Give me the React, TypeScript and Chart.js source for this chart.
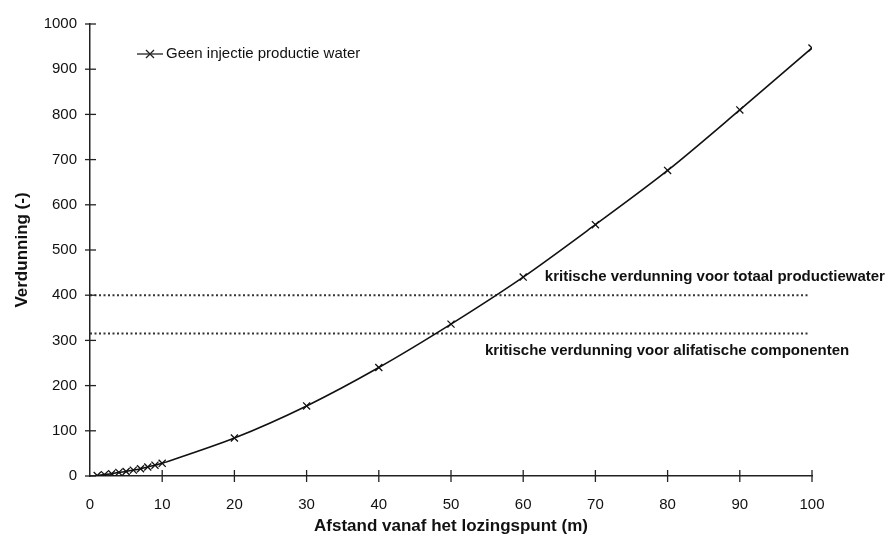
import React, { useEffect, useRef } from "react";
import { Chart, registerables } from "chart.js";

Chart.register(...registerables);

const afstand = [1, 2, 3, 4, 5, 6, 7, 8, 9, 10, 20, 30, 40, 50, 60, 70, 80, 90, 100];
const verdunning = [1, 3, 5, 8, 10, 13, 16, 20, 24, 28, 84, 155, 240, 336, 440, 556, 676, 810, 947];
const kritischTotaal = 400;
const kritischAlifatisch = 315;
const lijnBereik = [0, 99.5];
const legendLabel = "Geen injectie productie water";
const labelTotaal = "kritische verdunning voor totaal productiewater";
const labelAlifatisch = "kritische verdunning voor alifatische componenten";
const labelTotaalPos = { x: 63, y: 441 };
const labelAlifatischPos = { x: 54.7, y: 276 };

const FONT = "'Liberation Sans', Arial, Helvetica, sans-serif";

const crossTicks = {
  id: "crossTicks",
  afterDraw(chart: any) {
    const ctx = chart.ctx;
    const xs = chart.scales.x;
    const ys = chart.scales.y;
    const area = chart.chartArea;
    ctx.save();
    ctx.strokeStyle = "#222";
    ctx.lineWidth = 1.3;
    xs.ticks.forEach((t: any) => {
      const px = xs.getPixelForValue(t.value);
      if (t.value === 0) return;
      ctx.beginPath();
      ctx.moveTo(px, area.bottom - 6);
      ctx.lineTo(px, area.bottom + 6);
      ctx.stroke();
    });
    ys.ticks.forEach((t: any) => {
      const py = ys.getPixelForValue(t.value);
      ctx.beginPath();
      ctx.moveTo(area.left - 5, py);
      ctx.lineTo(area.left + 6, py);
      ctx.stroke();
    });
    // legend
    const lx = area.left + 47;
    const ly = area.top + 30;
    ctx.beginPath();
    ctx.moveTo(lx, ly);
    ctx.lineTo(lx + 26, ly);
    ctx.stroke();
    ctx.beginPath();
    ctx.moveTo(lx + 9, ly - 4);
    ctx.lineTo(lx + 17, ly + 4);
    ctx.moveTo(lx + 17, ly - 4);
    ctx.lineTo(lx + 9, ly + 4);
    ctx.stroke();
    ctx.fillStyle = "#111";
    ctx.font = `15px ${FONT}`;
    ctx.textBaseline = "middle";
    ctx.textAlign = "left";
    ctx.fillText(legendLabel, lx + 29, ly);
    // annotations
    ctx.font = `bold 15px ${FONT}`;
    ctx.fillText(labelTotaal, xs.getPixelForValue(labelTotaalPos.x), ys.getPixelForValue(labelTotaalPos.y));
    ctx.fillText(labelAlifatisch, xs.getPixelForValue(labelAlifatischPos.x), ys.getPixelForValue(labelAlifatischPos.y));
    ctx.restore();
  },
};

export default function App() {
  const ref = useRef<HTMLCanvasElement>(null);
  useEffect(() => {
    document.body.style.margin = "0";
    const chart = new Chart(ref.current as HTMLCanvasElement, {
      type: "line",
      data: {
        datasets: [
          {
            label: legendLabel,
            data: afstand.map((x, i) => ({ x, y: verdunning[i] })),
            borderColor: "#111",
            borderWidth: 1.6,
            pointStyle: "crossRot",
            pointRadius: 5,
            pointBorderColor: "#111",
            pointBorderWidth: 1.3,
            tension: 0.3,
            fill: false,
          },
          {
            label: "totaal",
            data: lijnBereik.map((x) => ({ x, y: kritischTotaal })),
            borderColor: "#333",
            borderWidth: 2,
            borderDash: [2, 2.5],
            pointRadius: 0,
          },
          {
            label: "alifatisch",
            data: lijnBereik.map((x) => ({ x, y: kritischAlifatisch })),
            borderColor: "#333",
            borderWidth: 2,
            borderDash: [2, 2.5],
            pointRadius: 0,
          },
        ],
      },
      plugins: [crossTicks],
      options: {
        animation: false,
        responsive: true,
        maintainAspectRatio: false,
        layout: { padding: { top: 24, right: 74, left: 0, bottom: 0 } },
        plugins: { legend: { display: false }, tooltip: { enabled: false } },
        scales: {
          x: {
            type: "linear",
            min: 0,
            max: 100,
            grid: { display: false },
            border: { display: true, color: "#222", width: 1.5 },
            ticks: { stepSize: 10, color: "#111", font: { family: FONT, size: 15 }, padding: 12 },
            title: {
              display: true,
              text: "Afstand vanaf het lozingspunt (m)",
              color: "#111",
              font: { family: FONT, size: 17, weight: "bold" },
              padding: { top: 0, bottom: 0 },
            },
            afterFit(scale: any) {
              scale.height = 61;
            },
          },
          y: {
            type: "linear",
            min: 0,
            max: 1000,
            grid: { display: false },
            border: { display: true, color: "#222", width: 1.5 },
            ticks: {
              stepSize: 100,
              color: "#111",
              font: { family: FONT, size: 15 },
              padding: 5,
              callback: (v: any) => String(v),
            },
            title: {
              display: true,
              text: "Verdunning (-)",
              color: "#111",
              font: { family: FONT, size: 17, weight: "bold" },
              padding: { top: 12, bottom: 0 },
            },
            afterFit(scale: any) {
              scale.width = 90;
            },
          },
        },
      },
    });
    return () => chart.destroy();
  }, []);
  return (
    <div style={{ width: 886, height: 537, position: "relative" }}>
      <canvas ref={ref} />
    </div>
  );
}
